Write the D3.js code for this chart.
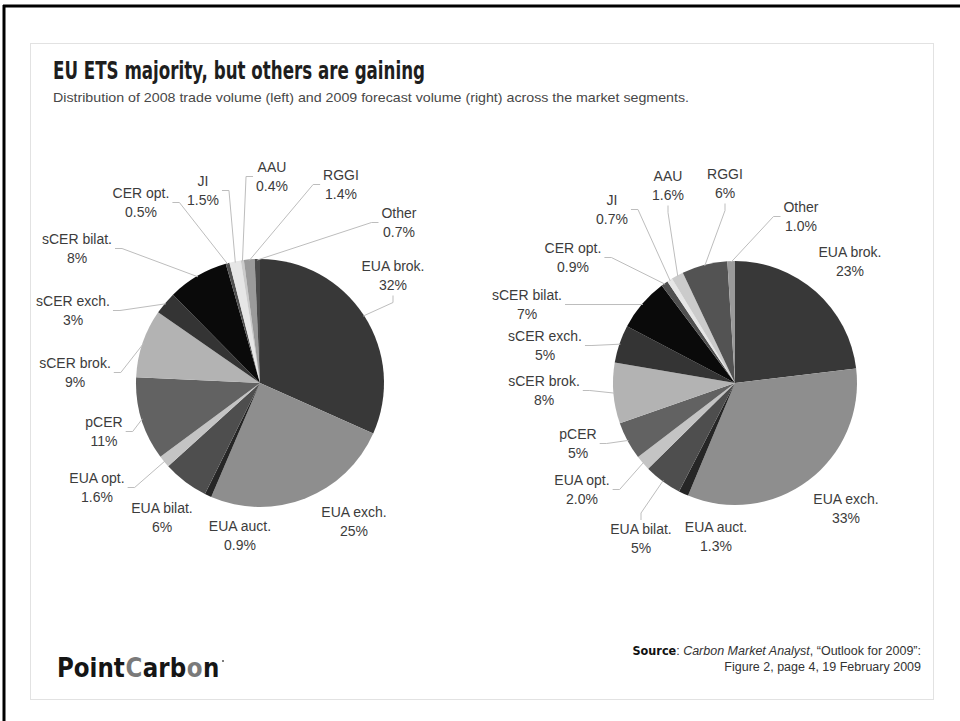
<!DOCTYPE html>
<html>
<head>
<meta charset="utf-8">
<script src="https://cdn.jsdelivr.net/npm/d3@7/dist/d3.min.js"></script>
<style>
  body { margin: 0; background: #fff; }
  svg { display: block; }
</style>
</head>
<body>
<svg id="chart" width="960" height="721"></svg>
<script>
// Market segments, clockwise from 12 o'clock
const segments = ["EUA brok.", "EUA exch.", "EUA auct.", "EUA bilat.", "EUA opt.", "pCER",
  "sCER brok.", "sCER exch.", "sCER bilat.", "CER opt.", "JI", "AAU", "RGGI", "Other"];

// Share of volume (%)
const share2008 = [32, 25, 0.9, 6, 1.6, 11, 9, 3, 8, 0.5, 1.5, 0.4, 1.4, 0.7];
const share2009 = [23, 33, 1.3, 5, 2.0, 5, 8, 5, 7, 0.9, 0.7, 1.6, 6, 1.0];

// Slice greys
const fill2008 = ["#383838", "#8e8e8e", "#262626", "#4e4e4e", "#c4c4c4", "#626262", "#b3b3b3",
  "#343434", "#0a0a0a", "#505050", "#e6e6e6", "#cbcbcb", "#9a9a9a", "#4a4a4a"];
const fill2009 = ["#383838", "#8e8e8e", "#262626", "#4e4e4e", "#c4c4c4", "#626262", "#b3b3b3",
  "#343434", "#0a0a0a", "#505050", "#e6e6e6", "#cbcbcb", "#535353", "#9a9a9a"];

// Label placement: first-line baseline [x, y] and the side the leader line leaves from
const labelPos2008 = [[393, 271, "b"], [354, 517, null], [240, 531, null], [162, 513, null],
  [97, 483, "r"], [104, 427, "r"], [75, 368, "r"], [73, 306, "r"], [77, 244, "r"],
  [141, 198, "r"], [203, 186, "r"], [272, 172, "l"], [341, 180, "l"], [399, 218, "l"]];
const labelPos2009 = [[850, 257, null], [846, 504, null], [716, 532, null], [641, 534, "t"],
  [582, 485, "r"], [578, 439, "r"], [544, 386, "r"], [545, 341, "r"], [527, 300, "r"],
  [573, 253, "r"], [612, 205, "r"], [668, 181, "b"], [725, 179, "b"], [801, 212, "l"]];

// Logo word pieces and their greys
const logoParts = ["Point", "C", "arb", "o", "n"];
const logoFills = ["#151515", "#7a7a7a", "#151515", "#7a7a7a", "#151515"];

const svg = d3.select("#chart");
const narrow = "'Liberation Sans Narrow', 'DejaVu Sans Condensed', 'Roboto Condensed', sans-serif";
const sans = "'Liberation Sans', Arial, Helvetica, sans-serif";

// Page frame
svg.append("rect").attr("x", 0).attr("y", 0).attr("width", 960).attr("height", 721).attr("fill", "#fff");
svg.append("line").attr("x1", 4).attr("x2", 4).attr("y1", 5).attr("y2", 721)
  .attr("stroke", "#000").attr("stroke-width", 3);
svg.append("line").attr("x1", 3).attr("x2", 960).attr("y1", 6).attr("y2", 6)
  .attr("stroke", "#000").attr("stroke-width", 3);
svg.append("rect").attr("x", 30.5).attr("y", 43.5).attr("width", 903).attr("height", 656)
  .attr("fill", "#fff").attr("stroke", "#e2e2e2").attr("stroke-width", 1);

// Heading
svg.append("text").attr("x", 53).attr("y", 79)
  .attr("font-family", narrow).attr("font-weight", "bold").attr("font-size", 24)
  .attr("fill", "#1e1e1e").attr("textLength", 372).attr("lengthAdjust", "spacingAndGlyphs")
  .text("EU ETS majority, but others are gaining");
svg.append("text").attr("x", 53).attr("y", 102)
  .attr("font-family", sans).attr("font-size", 13).attr("fill", "#484848")
  .attr("textLength", 636).attr("lengthAdjust", "spacingAndGlyphs")
  .text("Distribution of 2008 trade volume (left) and 2009 forecast volume (right) across the market segments.");

const fmt = v => v < 3 ? v.toFixed(1) + "%" : v.toFixed(0) + "%";

function drawPie(values, fills, labelPos, cx, cy, r) {
  const pie = d3.pie().sort(null).value(d => d)(values);
  const arc = d3.arc().innerRadius(0).outerRadius(r);
  const edge = d3.arc().innerRadius(r - 1).outerRadius(r - 1);
  const g = svg.append("g").attr("transform", `translate(${cx},${cy})`);

  g.selectAll("path.slice").data(pie).join("path")
    .attr("class", "slice")
    .attr("d", arc)
    .attr("fill", (d, i) => fills[i]);

  const lg = svg.append("g");
  pie.forEach((d, i) => {
    const [lx, ly, side] = labelPos[i];
    const t = lg.append("text").attr("text-anchor", "middle")
      .attr("font-family", sans).attr("font-size", 14).attr("fill", "#3c3c3c");
    t.append("tspan").attr("x", lx).attr("y", ly).text(segments[i]);
    t.append("tspan").attr("x", lx).attr("y", ly + 18.5).text(fmt(values[i]));
    if (!side) return;
    const bb = t.node().getBBox();
    const [ex, ey] = edge.centroid(d);
    const end = [cx + ex, cy + ey];
    let a, s;
    if (side === "r") { a = [bb.x + bb.width + 3, ly + 4.5]; s = [a[0] + 7, a[1]]; }
    else if (side === "l") { a = [bb.x - 3, ly + 4.5]; s = [a[0] - 7, a[1]]; }
    else if (side === "b") { a = [lx, ly + 24.5]; s = [lx, a[1] + 7]; }
    else { a = [lx, ly - 14]; s = [lx, a[1] - 7]; }
    lg.append("polyline")
      .attr("points", [a, s, end].map(p => p.join(",")).join(" "))
      .attr("fill", "none").attr("stroke", "#bdbdbd").attr("stroke-width", 1);
  });
}

drawPie(share2008, fill2008, labelPos2008, 260, 383, 124);
drawPie(share2009, fill2009, labelPos2009, 735, 383, 122);

// Logo: pieces set side by side, then squeezed to the wordmark width
const logoG = svg.append("g");
let logoW = 0;
logoParts.forEach((s, i) => {
  const t = logoG.append("text").attr("x", logoW).attr("y", 0)
    .attr("font-family", narrow).attr("font-weight", "bold").attr("font-size", 27)
    .attr("fill", logoFills[i]).text(s);
  logoW += t.node().getComputedTextLength() + 0.6;
});
logoG.attr("transform", `translate(57,677) scale(${163 / logoW},1)`);
svg.append("circle").attr("cx", 223).attr("cy", 661).attr("r", 1).attr("fill", "#555");

// Source note
const src = svg.append("text").attr("x", 921).attr("y", 655).attr("text-anchor", "end")
  .attr("font-family", sans).attr("font-size", 12.5).attr("fill", "#333");
src.append("tspan").attr("font-family", narrow).attr("font-weight", "bold").attr("fill", "#111").text("Source");
src.append("tspan").text(": ");
src.append("tspan").attr("font-style", "italic").text("Carbon Market Analyst");
src.append("tspan").text(", \u201cOutlook for 2009\u201d:");
svg.append("text").attr("x", 921).attr("y", 671).attr("text-anchor", "end")
  .attr("font-family", sans).attr("font-size", 12.5).attr("fill", "#333")
  .text("Figure 2, page 4, 19 February 2009");
</script>
</body>
</html>
